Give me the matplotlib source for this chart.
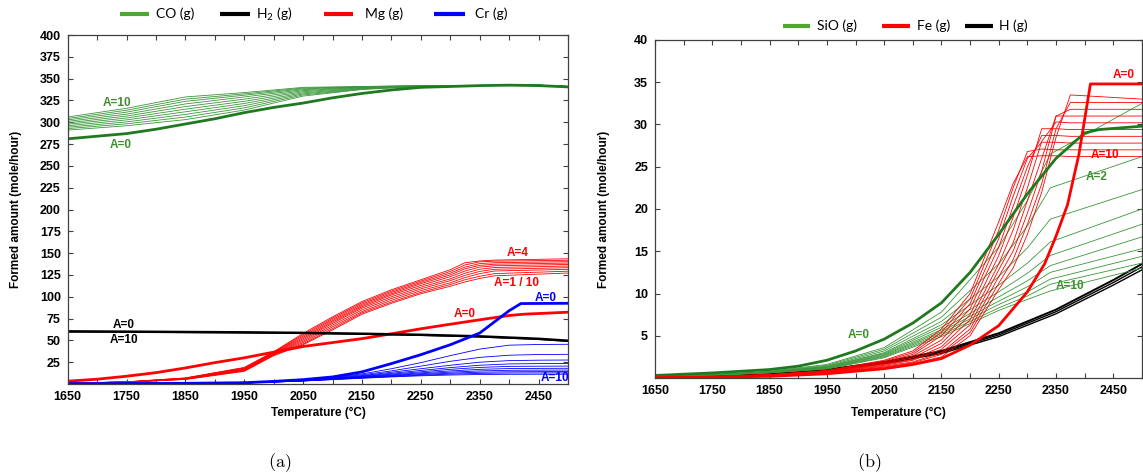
import matplotlib
matplotlib.use("Agg")
import matplotlib.pyplot as plt
from matplotlib.lines import Line2D
from matplotlib.ticker import FixedLocator

W, H = 1143, 476

# ---------------- data: panel (a) ----------------
T_co0 = [1650, 1700, 1750, 1800, 1850, 1900, 1950, 2000, 2050, 2100, 2150, 2200, 2250, 2300, 2350, 2400, 2450, 2500]
co_a0 = [281, 284, 287, 292, 298, 304, 311, 317, 322, 328, 333, 337, 340, 341, 342, 342.5, 342, 340.5]

T_co = [1650, 1750, 1850, 1950, 2050, 2150, 2250, 2350, 2450, 2500]
co_a1 = [291, 296, 303, 314, 330, 337.5, 341, 342, 342.5, 341]
co_a2 = [292.7, 298.2, 306, 316.5, 331.3, 338, 341.1, 342, 342.5, 341]
co_a3 = [294.3, 300.4, 309, 319, 332.5, 338.5, 341.2, 342, 342.5, 341]
co_a4 = [296, 302.7, 312, 321.5, 333.7, 339, 341.3, 342, 342.5, 341]
co_a5 = [297.7, 304.9, 315, 324, 335, 339.5, 341.4, 342, 342.5, 341]
co_a6 = [299.3, 307.1, 318, 326.5, 336.2, 340, 341.6, 342, 342.5, 341]
co_a7 = [301, 309.3, 321, 329, 337.3, 340.3, 341.7, 342, 342.5, 341]
co_a8 = [302.7, 311.6, 324, 331, 338.3, 340.6, 341.8, 342, 342.5, 341]
co_a9 = [304.3, 313.8, 326.5, 332.5, 339.2, 340.8, 341.9, 342, 342.5, 341]
co_a10 = [306, 316, 329, 334, 340, 341, 342, 342, 342.5, 341]

T_h2 = [1650, 1750, 1850, 1950, 2050, 2150, 2250, 2350, 2450, 2500]
h2_a0 = [60.3, 60.0, 59.6, 59.2, 58.6, 57.6, 56.4, 54.6, 51.8, 49.6]
h2_a10 = [60.0, 59.7, 59.3, 58.9, 58.3, 57.3, 56.0, 54.2, 51.4, 49.2]

T_mg0 = [1650, 1700, 1750, 1800, 1850, 1900, 1950, 2000, 2050, 2100, 2150, 2200, 2250, 2300, 2350, 2400, 2425, 2500]
mg_a0 = [3.2, 5.5, 8.9, 13, 18.4, 24.5, 30, 36.5, 43, 47.5, 52, 57.5, 63.3, 68.5, 73.6, 78.5, 80, 82.3]

T_mg = [1650, 1750, 1850, 1950, 2000, 2050, 2100, 2150, 2200, 2250, 2300, 2325, 2350, 2375, 2500]
mg_a4 = [1.0, 2.5, 7.0, 19.0, 37, 58, 77, 94.5, 108, 119.5, 131, 139, 141, 142, 143.5]
mg_a3 = [1.0, 2.4, 6.8, 18.5, 36.5, 56.5, 75.5, 93, 106.5, 118, 129, 136.5, 140, 140.8, 141.8]
mg_a5 = [1.0, 2.4, 6.6, 18.0, 36, 55, 74, 91.5, 105, 116.5, 127, 134, 138, 139, 140.2]
mg_a2 = [1.0, 2.3, 6.4, 17.5, 35.5, 53.5, 72.5, 90, 103.5, 115, 125, 132, 136, 137.3, 138.6]
mg_a6 = [1.0, 2.3, 6.2, 17.0, 35, 52, 71, 88.5, 102, 113, 123, 129.5, 134, 135.5, 137]
mg_a7 = [1.0, 2.2, 6.0, 16.5, 34.5, 50.5, 69.5, 87, 100, 111, 120.5, 127, 131.5, 133.5, 135.2]
mg_a8 = [1.0, 2.2, 5.8, 16.0, 34, 49, 67.5, 85, 98, 109, 118.5, 124.5, 129, 131.5, 133.3]
mg_a9 = [1.0, 2.1, 5.6, 15.5, 33.5, 47.5, 65.5, 83, 96, 107, 116, 122, 126.5, 129.5, 131.4]
mg_a1 = [1.0, 2.1, 5.4, 15.0, 33, 46, 63.5, 81.5, 94, 105, 114, 119.5, 123.5, 126.5, 129.3]
mg_a10 = [1.0, 2.0, 5.2, 14.5, 32.5, 45, 62, 80, 92.5, 103.5, 112, 117, 121, 124, 127.2]

T_cr0 = [1650, 1750, 1850, 1950, 2000, 2050, 2100, 2150, 2200, 2250, 2300, 2350, 2400, 2420, 2500]
cr_a0 = [0.5, 0.6, 0.8, 1.5, 3.0, 5.0, 8.1, 13.9, 23.4, 33.6, 45, 58.4, 84, 92.2, 92.5]

T_cr = [1650, 1850, 1950, 2050, 2100, 2150, 2200, 2250, 2300, 2350, 2400, 2450, 2500]
cr_a1 = [0.3, 0.6, 1.3, 4.5, 7.5, 11.5, 17.5, 24.5, 32.5, 40, 44.5, 45.3, 45.5]
cr_a2 = [0.3, 0.6, 1.3, 4.3, 7.0, 10.5, 15.0, 20.5, 26, 30.5, 33, 33.8, 34]
cr_a3 = [0.3, 0.6, 1.3, 4.1, 6.6, 9.6, 13.5, 17.5, 21.5, 25, 26.8, 27.3, 27.5]
cr_a4 = [0.3, 0.6, 1.2, 4.0, 6.3, 9.0, 12.3, 15.5, 18.8, 21.5, 23, 23.4, 23.5]
cr_a5 = [0.3, 0.6, 1.2, 3.9, 6.0, 8.5, 11.3, 14.0, 16.8, 19, 20.2, 20.4, 20.5]
cr_a6 = [0.3, 0.6, 1.2, 3.8, 5.8, 8.0, 10.5, 12.8, 15.0, 16.8, 17.7, 17.9, 18]
cr_a7 = [0.3, 0.6, 1.2, 3.7, 5.6, 7.6, 9.8, 11.8, 13.6, 15.0, 15.7, 15.9, 16]
cr_a8 = [0.3, 0.6, 1.1, 3.6, 5.4, 7.2, 9.2, 10.9, 12.4, 13.5, 14.0, 14.2, 14.3]
cr_a9 = [0.3, 0.6, 1.1, 3.5, 5.2, 6.9, 8.6, 10.1, 11.3, 12.2, 12.6, 12.7, 12.8]
cr_a10 = [0.3, 0.6, 1.1, 3.4, 5.0, 6.6, 8.1, 9.4, 10.3, 10.9, 11.1, 11.2, 11.2]

# ---------------- data: panel (b) ----------------
T_sio0 = [1650, 1750, 1850, 1900, 1950, 2000, 2050, 2100, 2150, 2200, 2250, 2300, 2350, 2400, 2425, 2500]
sio_a0 = [0.3, 0.6, 1.0, 1.4, 2.1, 3.2, 4.6, 6.5, 8.9, 12.5, 17.0, 21.8, 26.0, 29.0, 29.4, 29.8]

T_sio = [1650, 1750, 1850, 1950, 2050, 2150, 2250, 2300, 2340, 2500]
sio_a1 = [0.2, 0.4, 0.8, 1.6, 3.6, 7.8, 15.5, 21.0, 26.5, 32.5]
sio_a2 = [0.2, 0.4, 0.75, 1.5, 3.4, 7.2, 13.5, 18.0, 22.5, 26.2]
sio_a3 = [0.2, 0.38, 0.72, 1.4, 3.2, 6.7, 12.0, 15.4, 18.8, 22.3]
sio_a4 = [0.2, 0.37, 0.7, 1.35, 3.0, 6.3, 11.0, 13.6, 16.1, 20.0]
sio_a5 = [0.2, 0.36, 0.68, 1.3, 2.9, 6.0, 10.2, 12.4, 14.5, 18.2]
sio_a6 = [0.2, 0.35, 0.66, 1.25, 2.8, 5.7, 9.6, 11.5, 13.3, 16.7]
sio_a7 = [0.2, 0.35, 0.64, 1.2, 2.7, 5.5, 9.1, 10.8, 12.5, 15.3]
sio_a8 = [0.2, 0.34, 0.62, 1.15, 2.6, 5.3, 8.7, 10.2, 11.7, 14.4]
sio_a9 = [0.2, 0.34, 0.61, 1.1, 2.5, 5.1, 8.3, 9.7, 11.1, 13.6]
sio_a10 = [0.2, 0.33, 0.6, 1.05, 2.4, 4.9, 8.0, 9.3, 10.3, 13.0]

T_fe0 = [1650, 1750, 1850, 1950, 2050, 2100, 2150, 2200, 2250, 2300, 2330, 2350, 2370, 2390, 2410, 2500]
fe_a0 = [0.05, 0.1, 0.2, 0.5, 1.1, 1.6, 2.3, 3.9, 6.2, 10.2, 13.5, 16.8, 20.5, 26.5, 34.8, 34.8]

T_fe = [1650, 1750, 1850, 1950, 2050, 2100, 2150, 2200, 2250, 2275, 2300, 2325, 2350, 2375, 2500]
fe_a10 = [0.10, 0.20, 0.40, 0.90, 2.1, 3.2, 5.8, 10.0, 18.5, 23.0, 26.2, 26.3, 26.3, 26.2, 26.2]
fe_a9 = [0.10, 0.20, 0.40, 0.85, 2.0, 3.0, 5.4, 9.4, 17.5, 22.5, 26.8, 27.1, 27.0, 27.0, 27.0]
fe_a8 = [0.10, 0.20, 0.38, 0.80, 1.9, 2.8, 5.0, 8.8, 16.5, 21.5, 26.0, 27.9, 27.9, 27.8, 27.8]
fe_a7 = [0.09, 0.18, 0.36, 0.75, 1.8, 2.6, 4.5, 8.2, 15.5, 20.3, 25.0, 28.7, 28.7, 28.6, 28.6]
fe_a6 = [0.08, 0.16, 0.34, 0.72, 1.7, 2.4, 4.1, 7.5, 14.5, 19.0, 24.0, 29.5, 29.5, 29.4, 29.4]
fe_a5 = [0.08, 0.15, 0.33, 0.70, 1.6, 2.2, 3.7, 6.9, 13.5, 17.5, 22.5, 28.0, 30.3, 30.2, 30.2]
fe_a4 = [0.07, 0.14, 0.32, 0.68, 1.5, 2.1, 3.4, 6.3, 12.8, 16.0, 21.0, 26.0, 31.0, 31.0, 31.0]
fe_a3 = [0.06, 0.12, 0.31, 0.65, 1.4, 1.9, 3.0, 5.8, 12.0, 15.0, 19.5, 24.5, 31.0, 31.8, 31.8]
fe_a2 = [0.05, 0.11, 0.30, 0.62, 1.3, 1.8, 2.8, 5.4, 11.2, 14.0, 18.2, 23.0, 29.5, 32.6, 32.6]
fe_a1 = [0.05, 0.10, 0.30, 0.60, 1.2, 1.7, 2.5, 5.0, 10.5, 13.0, 17.0, 22.0, 28.5, 33.5, 33.0]

T_h = [1650, 1750, 1850, 1950, 2050, 2150, 2250, 2350, 2450, 2500]
h_a0 = [0.1, 0.25, 0.5, 1.0, 1.9, 3.2, 5.3, 8.1, 11.6, 13.5]
h_a5 = [0.1, 0.24, 0.48, 0.95, 1.8, 3.05, 5.1, 7.85, 11.3, 13.15]
h_a10 = [0.1, 0.22, 0.45, 0.9, 1.7, 2.9, 4.9, 7.6, 11.0, 12.8]

xticks_major = [1650, 1750, 1850, 1950, 2050, 2150, 2250, 2350, 2450]
xticks_minor = [1700, 1800, 1900, 2000, 2100, 2200, 2300, 2400, 2500]
yticks_a = [25, 50, 75, 100, 125, 150, 175, 200, 225, 250, 275, 300, 325, 350, 375, 400]
yticks_b = [5, 10, 15, 20, 25, 30, 35, 40]

# ---------------- style ----------------
GREEN_THICK = '#1f7a1f'
GREEN_THIN = '#3a963a'
GREEN_LEG = '#4ea72e'
GREEN_TXT = '#3f8f2f'
RED = '#ff0000'
BLUE = '#0000ff'
BLACK = '#000000'
SPINE = '#404040'
TICKFONT = ['Liberation Sans', 'DejaVu Sans']
LEGFONT = ['Lato', 'DejaVu Sans']

plt.rcParams['font.family'] = TICKFONT
plt.rcParams['mathtext.fontset'] = 'custom'
plt.rcParams['mathtext.rm'] = 'Lato'

fig = plt.figure(figsize=(W / 100, H / 100), dpi=100)


def box(x0, y0, x1, y1):
    return [x0 / W, 1 - y1 / H, (x1 - x0) / W, (y1 - y0) / H]


def style_axes(ax, ymax, yticks):
    ax.set_xlim(1650, 2500)
    ax.set_ylim(0, ymax)
    ax.xaxis.set_major_locator(FixedLocator(xticks_major))
    ax.xaxis.set_minor_locator(FixedLocator(xticks_minor))
    ax.yaxis.set_major_locator(FixedLocator(yticks))
    ax.tick_params(which='both', direction='in', top=True, right=True,
                   length=3.5, width=0.8, color=SPINE, labelsize=9, pad=5)
    for lab in ax.get_xticklabels() + ax.get_yticklabels():
        lab.set_fontweight('bold')
    for s in ax.spines.values():
        s.set_color(SPINE)
        s.set_linewidth(0.9)


# ---------------- panel (a) ----------------
ax1 = fig.add_axes(box(67.7, 35, 568, 384))
for ys in [co_a1, co_a2, co_a3, co_a4, co_a5, co_a6, co_a7, co_a8, co_a9, co_a10]:
    ax1.plot(T_co, ys, color=GREEN_THIN, lw=0.6)
ax1.plot(T_co0, co_a0, color=GREEN_THICK, lw=2.0)

for ys in [mg_a4, mg_a3, mg_a5, mg_a2, mg_a6, mg_a7, mg_a8, mg_a9, mg_a1, mg_a10]:
    ax1.plot(T_mg, ys, color=RED, lw=0.6)
ax1.plot(T_mg0, mg_a0, color=RED, lw=2.0)

ax1.plot(T_h2, h2_a10, color=BLACK, lw=1.2)
ax1.plot(T_h2, h2_a0, color=BLACK, lw=1.8)

for ys in [cr_a1, cr_a2, cr_a3, cr_a4, cr_a5, cr_a6, cr_a7, cr_a8, cr_a9, cr_a10]:
    ax1.plot(T_cr, ys, color=BLUE, lw=0.6)
ax1.plot(T_cr0, cr_a0, color=BLUE, lw=2.0)

style_axes(ax1, 400, yticks_a)

lbl = dict(fontsize=8.5, fontweight='bold', ha='center', va='center')
ax1.text(1733, 322, 'A=10', color=GREEN_TXT, **lbl)
ax1.text(1740, 274, 'A=0', color=GREEN_TXT, **lbl)
ax1.text(1745, 68, 'A=0', color=BLACK, **lbl)
ax1.text(1745, 51, 'A=10', color=BLACK, **lbl)
ax1.text(2415, 150, 'A=4', color=RED, **lbl)
ax1.text(2412, 116, 'A=1 / 10', color=RED, **lbl)
ax1.text(2325, 80, 'A=0', color=RED, **lbl)
ax1.text(2462, 99, 'A=0', color=BLUE, **lbl)
t = ax1.text(2478, 7, 'A=10', color=BLUE, **lbl)
t.set_clip_on(True)

# ---------------- panel (b) ----------------
ax2 = fig.add_axes(box(655, 40, 1142, 378))
ax2.plot(T_h, h_a10, color=BLACK, lw=1.0)
ax2.plot(T_h, h_a5, color=BLACK, lw=1.0)
ax2.plot(T_h, h_a0, color=BLACK, lw=1.4)

for ys in [sio_a1, sio_a2, sio_a3, sio_a4, sio_a5, sio_a6, sio_a7, sio_a8, sio_a9, sio_a10]:
    ax2.plot(T_sio, ys, color=GREEN_THIN, lw=0.6)

for ys in [fe_a10, fe_a9, fe_a8, fe_a7, fe_a6, fe_a5, fe_a4, fe_a3, fe_a2, fe_a1]:
    ax2.plot(T_fe, ys, color=RED, lw=0.6)

ax2.plot(T_sio0, sio_a0, color=GREEN_THICK, lw=2.0)
ax2.plot(T_fe0, fe_a0, color=RED, lw=2.0)

style_axes(ax2, 40, yticks_b)

ax2.text(2468, 35.8, 'A=0', color=RED, **lbl)
ax2.text(2435, 26.4, 'A=10', color=RED, **lbl)
ax2.text(2420, 23.8, 'A=2', color=GREEN_TXT, **lbl)
ax2.text(2375, 10.9, 'A=10', color=GREEN_TXT, **lbl)
ax2.text(2005, 5.1, 'A=0', color=GREEN_TXT, **lbl)

# ---------------- axis labels & captions ----------------
lab = dict(fontsize=8.5, fontweight='bold', ha='center', va='center')
fig.text(16 / W, 1 - 209.5 / H, 'Formed amount (mole/hour)', rotation=90, **lab)
fig.text(604 / W, 1 - 209 / H, 'Formed amount (mole/hour)', rotation=90, **lab)
fig.text(318 / W, 1 - 413 / H, 'Temperature (°C)', **lab)
fig.text(898 / W, 1 - 413 / H, 'Temperature (°C)', **lab)

fig.text(280 / W, 1 - 463 / H, r'$\mathrm{(a)}$', fontsize=13, ha='center', va='center',
         math_fontfamily='cm')
fig.text(869 / W, 1 - 463 / H, r'$\mathrm{(b)}$', fontsize=13, ha='center', va='center',
         math_fontfamily='cm')

# ---------------- legends ----------------
legend_a = [('CO (g)', GREEN_LEG, 120, 149, 156),
            ('H$_2$ (g)', BLACK, 220, 250, 256),
            ('Mg (g)', RED, 324, 353, 365),
            ('Cr (g)', BLUE, 434, 465, 475)]
legend_b = [('SiO (g)', GREEN_LEG, 783, 810, 817),
            ('Fe (g)', RED, 882, 910, 917),
            ('H (g)', BLACK, 965, 993, 999)]
for items, ypx in [(legend_a, 14), (legend_b, 26)]:
    for name, col, x0, x1, xt in items:
        fy = 1 - ypx / H
        fig.add_artist(Line2D([x0 / W, x1 / W], [fy, fy], transform=fig.transFigure,
                              color=col, lw=3.0, solid_capstyle='butt'))
        fig.text(xt / W, fy, name, fontsize=10, family=LEGFONT, ha='left', va='center')

fig.savefig('out.png', dpi=100)
